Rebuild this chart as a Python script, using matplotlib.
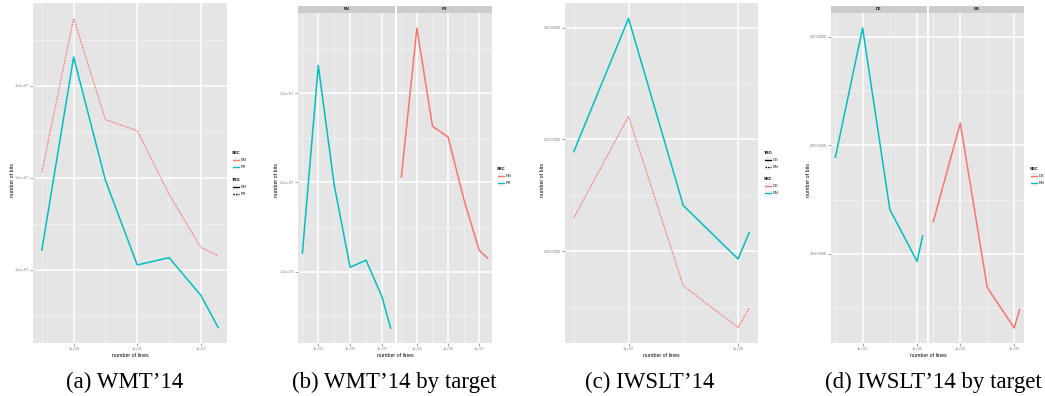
import numpy as np
import matplotlib.pyplot as plt
from matplotlib.lines import Line2D
from matplotlib.patches import Rectangle
from matplotlib.ticker import FixedLocator

plt.rcParams['font.family'] = ['Liberation Sans', 'DejaVu Sans']

W, H = 1045, 396

RED = '#F8766D'
CYAN = '#00BFC4'
PANEL_BG = '#E5E5E5'
MINOR_GRID = '#F2F2F2'
STRIP_BG = '#CCCCCC'
GREY50 = '#7F7F7F'
DOTTED = (0, (1.2, 0.9))

# ---- WMT'14 ----
wmt_lines = [1e2, 1e3, 1e4, 1e5, 1e6, 1e7, 3.5e7]
wmt_en_to_fr = [12.06e6, 13.73e6, 12.63e6, 12.51e6, 11.82e6, 11.24e6, 11.15e6]
wmt_fr_to_en = [11.21e6, 13.31e6, 11.97e6, 11.05e6, 11.13e6, 10.72e6, 10.37e6]
wmt_xticks = [1e3, 1e5, 1e7]
wmt_xlabels = ['1e+03', '1e+05', '1e+07']
wmt_xminor = [1e2, 1e4, 1e6]
wmt_yticks = [1.1e7, 1.2e7, 1.3e7]
wmt_ylabels = ['1.1e+07', '1.2e+07', '1.3e+07']
wmt_yminor = [1.05e7, 1.15e7, 1.25e7, 1.35e7]

# ---- IWSLT'14 ----
iwslt_lines = [1e2, 1e3, 1e4, 1e5, 1.6e5]
iwslt_en_to_de = [20.445e6, 21.041e6, 20.204e6, 19.965e6, 20.083e6]
iwslt_de_to_en = [20.148e6, 20.603e6, 19.845e6, 19.658e6, 19.744e6]
iwslt_xticks = [1e3, 1e5]
iwslt_xlabels = ['1e+03', '1e+05']
iwslt_xminor = [1e2, 1e4]
iwslt_yticks = [20.0e6, 20.5e6, 21.0e6]
iwslt_ylabels = ['20000000', '20500000', '21000000']
iwslt_yminor = [19.75e6, 20.25e6, 20.75e6]

captions = ['(a) WMT\u201914', '(b) WMT\u201914 by target',
            '(c) IWSLT\u201914', '(d) IWSLT\u201914 by target']


def px_axes(fig, x0, y0, x1, y1):
    return fig.add_axes([x0 / W, 1 - y1 / H, (x1 - x0) / W, (y1 - y0) / H])


def expand(lo, hi, f=0.05):
    d = (hi - lo) * f
    return lo - d, hi + d


def style(ax, xs, ys, xticks, xlabels, xminor, yticks, ylabels, yminor, ylab=True):
    ax.set_facecolor(PANEL_BG)
    for s in ax.spines.values():
        s.set_visible(False)
    ax.set_xscale('log')
    lo, hi = expand(np.log10(min(xs)), np.log10(max(xs)))
    ax.set_xlim(10 ** lo, 10 ** hi)
    ax.set_ylim(*expand(min(ys), max(ys)))
    ax.xaxis.set_major_locator(FixedLocator(xticks))
    ax.xaxis.set_minor_locator(FixedLocator(xminor))
    ax.set_xticklabels(xlabels)
    ax.xaxis.set_minor_formatter(plt.NullFormatter())
    ax.yaxis.set_major_locator(FixedLocator(yticks))
    ax.yaxis.set_minor_locator(FixedLocator(yminor))
    if ylab:
        ax.set_yticklabels(ylabels)
        ax.tick_params(axis='y', which='major', length=2, width=0.5, color=GREY50)
    else:
        ax.tick_params(axis='y', which='major', length=0, labelleft=False)
    ax.tick_params(which='major', labelsize=2.8, labelcolor=GREY50, pad=1.0)
    ax.tick_params(axis='x', which='major', length=2, width=0.5, color=GREY50)
    ax.tick_params(which='minor', length=0)
    ax.grid(which='major', color='white', lw=1.1)
    ax.grid(which='minor', color=MINOR_GRID, lw=0.6)
    ax.set_axisbelow(True)


def strip(fig, x0, x1, label):
    fig.add_artist(Rectangle((x0 / W, 1 - 13 / H), (x1 - x0) / W, 7 / H,
                             transform=fig.transFigure, color=STRIP_BG, lw=0))
    fig.text((x0 + x1) / 2 / W, 1 - 9.5 / H, label, ha='center', va='center',
             fontsize=3.0, fontweight='bold', color='#1A1A1A')


def titles(fig, xc, ybits_x):
    fig.text(xc / W, 1 - 355.5 / H, 'number of lines', ha='center', va='center', fontsize=3.8)
    fig.text(ybits_x / W, 1 - 180 / H, 'number of bits', ha='center', va='center',
             fontsize=3.8, rotation=90)


def legend_block(fig, x, y, title, entries):
    fig.text(x / W, 1 - y / H, title, ha='left', va='center', fontsize=3.0, fontweight='bold')
    for i, (lab, col, ls) in enumerate(entries):
        yy = y + 7 + 7 * i
        fig.add_artist(Rectangle(((x + 0.5) / W, 1 - (yy + 3) / H), 7 / W, 6 / H,
                                 transform=fig.transFigure, color=MINOR_GRID, lw=0))
        fig.add_artist(Line2D([(x + 1) / W, (x + 7) / W], [1 - yy / H, 1 - yy / H],
                              transform=fig.transFigure, color=col, lw=0.9, linestyle=ls))
        fig.text((x + 9) / W, 1 - yy / H, lab, ha='left', va='center', fontsize=3.0,
                 color='#1A1A1A')


fig = plt.figure(figsize=(W / 100, H / 100), dpi=100)

# (a) WMT'14, both directions in one panel
wmt_all = wmt_en_to_fr + wmt_fr_to_en
ax = px_axes(fig, 33, 3, 227, 343)
style(ax, wmt_lines, wmt_all, wmt_xticks, wmt_xlabels, wmt_xminor,
      wmt_yticks, wmt_ylabels, wmt_yminor)
ax.plot(wmt_lines, wmt_en_to_fr, color=RED, lw=0.9, linestyle=DOTTED)
ax.plot(wmt_lines, wmt_fr_to_en, color=CYAN, lw=1.1)
titles(fig, 130, 12)
legend_block(fig, 232, 153, 'SRC', [('EN', RED, '-'), ('FR', CYAN, '-')])
legend_block(fig, 232, 180, 'TRG', [('EN', 'black', '-'), ('FR', 'black', DOTTED)])

# (b) WMT'14 faceted by target language
ax1 = px_axes(fig, 298, 13, 395, 343)
ax2 = px_axes(fig, 397, 13, 492, 343)
style(ax1, wmt_lines, wmt_all, wmt_xticks, wmt_xlabels, wmt_xminor,
      wmt_yticks, wmt_ylabels, wmt_yminor)
style(ax2, wmt_lines, wmt_all, wmt_xticks, wmt_xlabels, wmt_xminor,
      wmt_yticks, wmt_ylabels, wmt_yminor, ylab=False)
ax1.plot(wmt_lines, wmt_fr_to_en, color=CYAN, lw=1.1)
ax2.plot(wmt_lines, wmt_en_to_fr, color=RED, lw=1.1)
strip(fig, 298, 395, 'EN')
strip(fig, 397, 492, 'FR')
titles(fig, 395, 277)
legend_block(fig, 497, 169, 'SRC', [('EN', RED, '-'), ('FR', CYAN, '-')])

# (c) IWSLT'14, both directions in one panel
iwslt_all = iwslt_en_to_de + iwslt_de_to_en
ax = px_axes(fig, 565, 3, 758, 343)
style(ax, iwslt_lines, iwslt_all, iwslt_xticks, iwslt_xlabels, iwslt_xminor,
      iwslt_yticks, iwslt_ylabels, iwslt_yminor)
ax.plot(iwslt_lines, iwslt_de_to_en, color=RED, lw=0.9, linestyle=DOTTED)
ax.plot(iwslt_lines, iwslt_en_to_de, color=CYAN, lw=1.1)
titles(fig, 661, 543)
legend_block(fig, 764, 153, 'TRG', [('DE', 'black', '-'), ('EN', 'black', DOTTED)])
legend_block(fig, 764, 179, 'SRC', [('DE', RED, '-'), ('EN', CYAN, '-')])

# (d) IWSLT'14 faceted by target language
ax1 = px_axes(fig, 831, 13, 927, 343)
ax2 = px_axes(fig, 929, 13, 1024, 343)
style(ax1, iwslt_lines, iwslt_all, iwslt_xticks, iwslt_xlabels, iwslt_xminor,
      iwslt_yticks, iwslt_ylabels, iwslt_yminor)
style(ax2, iwslt_lines, iwslt_all, iwslt_xticks, iwslt_xlabels, iwslt_xminor,
      iwslt_yticks, iwslt_ylabels, iwslt_yminor, ylab=False)
ax1.plot(iwslt_lines, iwslt_en_to_de, color=CYAN, lw=1.1)
ax2.plot(iwslt_lines, iwslt_de_to_en, color=RED, lw=1.1)
strip(fig, 831, 927, 'DE')
strip(fig, 929, 1024, 'EN')
titles(fig, 928, 809)
legend_block(fig, 1030, 169, 'SRC', [('DE', RED, '-'), ('EN', CYAN, '-')])

# captions under each chart
for xc, text in zip([125, 394, 650, 933], captions):
    fig.text(xc / W, 1 - 382 / H, text, ha='center', va='center',
             fontsize=16.5, family='Liberation Serif')

fig.savefig('out.png', dpi=100)
